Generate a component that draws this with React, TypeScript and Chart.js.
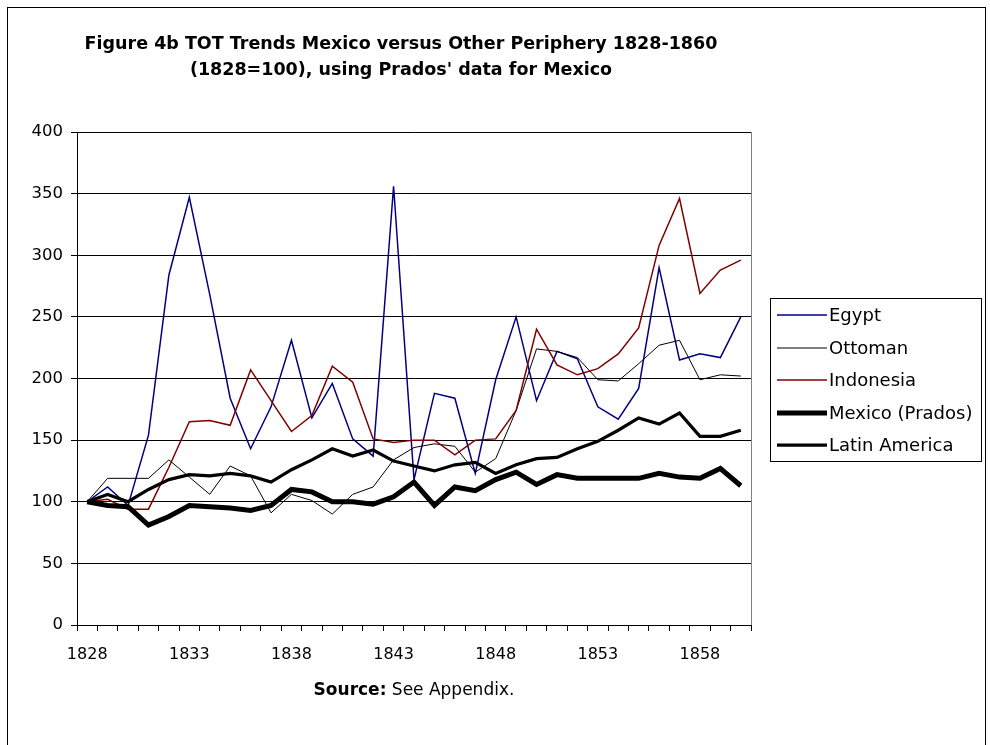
import React, { useEffect, useRef } from "react";
import { Chart, registerables } from "chart.js";

Chart.register(...registerables);

const years = [
  "1828", "1829", "1830", "1831", "1832", "1833", "1834", "1835", "1836", "1837", "1838",
  "1839", "1840", "1841", "1842", "1843", "1844", "1845", "1846", "1847", "1848", "1849",
  "1850", "1851", "1852", "1853", "1854", "1855", "1856", "1857", "1858", "1859", "1860",
];

const egypt = [100, 112, 97, 154, 284, 347, 268, 184, 143, 177, 231, 168, 196, 151, 137, 356, 118, 188, 184, 123, 199, 250, 182, 222, 216, 177, 167, 192, 290, 215, 220, 217, 250];
const ottoman = [100, 119, 119, 119, 134, 120, 106, 129, 121, 91, 106, 101, 90, 106, 112, 134, 144, 147, 145, 124, 135, 174, 224, 222, 217, 199, 198, 212, 227, 231, 199, 203, 202];
const indonesia = [100, 102, 94, 94, 128, 165, 166, 162, 207, 182, 157, 170, 210, 197, 151, 148, 150, 150, 138, 150, 151, 174, 240, 211, 203, 208, 220, 241, 308, 346, 269, 288, 296];
const mexicoPrados = [100, 97, 96, 81, 88, 97, 96, 95, 93, 97, 110, 108, 100, 100, 98, 104, 116, 97, 112, 109, 118, 124, 114, 122, 119, 119, 119, 119, 123, 120, 119, 127, 113];
const latinAmerica = [100, 106, 100, 110, 118, 122, 121, 123, 121, 116, 126, 134, 143, 137, 142, 133, 129, 125, 130, 132, 123, 130, 135, 136, 143, 149, 158, 168, 163, 172, 153, 153, 158];

const yTicks = [0, 50, 100, 150, 200, 250, 300, 350, 400];
const labelEvery = 5;

const titleLines = [
  "Figure 4b TOT Trends Mexico versus Other Periphery 1828-1860",
  "(1828=100), using Prados' data for Mexico",
];
const sourceBold = "Source:";
const sourceRest = " See Appendix.";

const FONT = "'DejaVu Sans', 'Liberation Sans', Arial, sans-serif";

const decorPlugin = {
  id: "decor",
  beforeDraw(chart: any) {
    const ctx = chart.ctx;
    ctx.save();
    ctx.fillStyle = "#ffffff";
    ctx.fillRect(0, 0, chart.width, chart.height);
    ctx.restore();
  },
  afterDraw(chart: any) {
    const ctx = chart.ctx;
    const area = chart.chartArea;
    ctx.save();

    // plot area right border
    ctx.strokeStyle = "#808080";
    ctx.lineWidth = 1;
    ctx.beginPath();
    ctx.moveTo(Math.round(area.right) + 0.5, area.top);
    ctx.lineTo(Math.round(area.right) + 0.5, area.bottom);
    ctx.stroke();

    // outer chart border
    ctx.strokeStyle = "#000000";
    ctx.lineWidth = 1;
    ctx.strokeRect(7.5, 7.5, 978, 760);

    // title
    ctx.fillStyle = "#000000";
    ctx.font = "bold 17.5px " + FONT;
    ctx.textAlign = "center";
    ctx.textBaseline = "middle";
    const tx = 401;
    ctx.fillText(titleLines[0], tx, 44);
    ctx.fillText(titleLines[1], tx, 70);

    // source line
    ctx.textAlign = "left";
    ctx.font = "bold 17px " + FONT;
    const wb = ctx.measureText(sourceBold).width;
    ctx.font = "17px " + FONT;
    const wr = ctx.measureText(sourceRest).width;
    const sx = (area.left + area.right) / 2 - (wb + wr) / 2;
    ctx.font = "bold 17px " + FONT;
    ctx.fillText(sourceBold, sx, 691);
    ctx.font = "17px " + FONT;
    ctx.fillText(sourceRest, sx + wb, 691);

    // legend
    const lx = 770.5, ly = 298.5, lw = 211, lh = 163;
    ctx.strokeStyle = "#000000";
    ctx.lineWidth = 1;
    ctx.strokeRect(lx, ly, lw, lh);
    const rowY = [315, 348, 380, 413, 445];
    ctx.font = "18px " + FONT;
    ctx.textBaseline = "middle";
    chart.data.datasets.forEach((ds: any, i: number) => {
      const y = rowY[i];
      ctx.strokeStyle = ds.borderColor;
      ctx.lineWidth = ds.borderWidth;
      ctx.lineCap = "butt";
      ctx.beginPath();
      ctx.moveTo(777, y);
      ctx.lineTo(827, y);
      ctx.stroke();
      ctx.fillStyle = "#000000";
      ctx.fillText(ds.label, 829, y + 1);
    });

    ctx.restore();
  },
};

export default function App() {
  const canvasRef = useRef<HTMLCanvasElement | null>(null);

  useEffect(() => {
    const canvas = canvasRef.current;
    if (!canvas) return;
    Chart.defaults.font.family = FONT;
    const chart = new Chart(canvas, {
      type: "line",
      data: {
        labels: years,
        datasets: [
          { label: "Egypt", data: egypt, borderColor: "#000080", backgroundColor: "#000080", borderWidth: 1.5, order: 5 },
          { label: "Ottoman", data: ottoman, borderColor: "#000000", backgroundColor: "#000000", borderWidth: 1, order: 4 },
          { label: "Indonesia", data: indonesia, borderColor: "#800000", backgroundColor: "#800000", borderWidth: 1.5, order: 3 },
          { label: "Mexico (Prados)", data: mexicoPrados, borderColor: "#000000", backgroundColor: "#000000", borderWidth: 5, order: 2 },
          { label: "Latin America", data: latinAmerica, borderColor: "#000000", backgroundColor: "#000000", borderWidth: 3.25, order: 1 },
        ],
      },
      options: {
        responsive: false,
        animation: false,
        events: [],
        elements: {
          point: { radius: 0, hoverRadius: 0 },
          line: { tension: 0, borderJoinStyle: "miter" as any, fill: false },
        },
        layout: { padding: { left: 0, top: 132, right: 239, bottom: 0 } },
        plugins: {
          legend: { display: false },
          title: { display: false },
          tooltip: { enabled: false },
        },
        scales: {
          x: {
            type: "category",
            offset: true,
            grid: {
              display: true,
              drawOnChartArea: false,
              drawTicks: true,
              tickLength: 6,
              offset: true,
              color: "#000000",
            },
            border: { display: true, color: "#000000", width: 1 },
            ticks: {
              autoSkip: false,
              maxRotation: 0,
              minRotation: 0,
              padding: 14,
              color: "#000000",
              font: { size: 16 },
              callback: (_v: any, i: number) => (i % labelEvery === 0 ? years[i] : ""),
            },
            afterFit: (s: any) => {
              s.height = 120;
            },
          },
          y: {
            min: yTicks[0],
            max: yTicks[yTicks.length - 1],
            grid: { color: "#000000", drawTicks: true, tickLength: 6 },
            border: { display: true, color: "#000000", width: 1 },
            ticks: {
              stepSize: yTicks[1] - yTicks[0],
              padding: 8,
              color: "#000000",
              font: { size: 16.5 },
            },
            afterFit: (s: any) => {
              s.width = 77;
            },
          },
        },
      },
      plugins: [decorPlugin],
    });
    return () => chart.destroy();
  }, []);

  return (
    <div style={{ position: "absolute", left: 0, top: 0, width: 990, height: 745, overflow: "hidden" }}>
      <canvas ref={canvasRef} width={990} height={745} style={{ width: 990, height: 745, display: "block" }} />
    </div>
  );
}
